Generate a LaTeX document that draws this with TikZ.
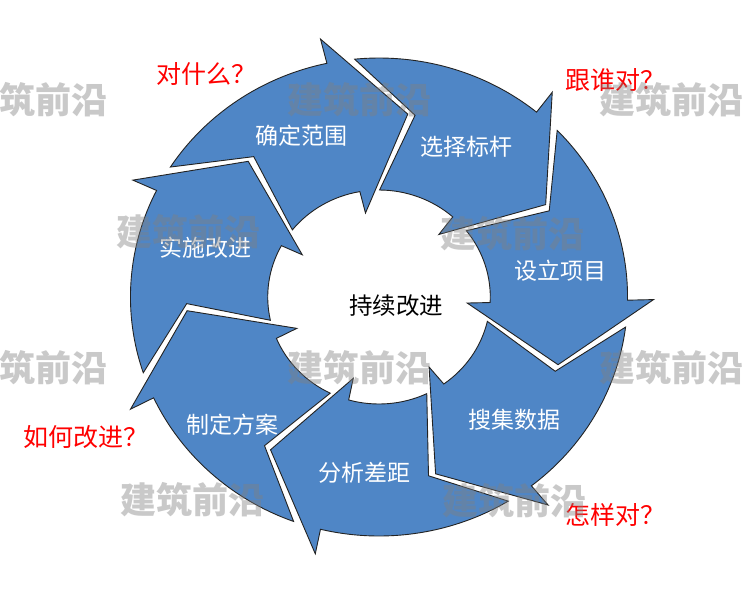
\documentclass[tikz,border=0pt]{standalone}
\usepackage{fontspec}
\newfontfamily\cjk{Noto Sans CJK SC}
\definecolor{segblue}{RGB}{79,134,198}
\definecolor{segline}{RGB}{35,35,35}
\definecolor{wmgray}{RGB}{128,128,128}
\begin{document}
\begin{tikzpicture}[x=1pt,y=-1pt,
  seg/.style={fill=segblue, draw=segline, line width=0.9pt, line join=miter},
  lab/.style={text=white, font=\cjk\fontsize{23}{23}\selectfont, inner sep=0pt},
  hub/.style={text=black, font=\cjk\fontsize{23.5}{23.5}\selectfont, inner sep=0pt},
  ask/.style={text=red, font=\cjk\fontsize{25}{25}\selectfont, inner sep=0pt},
  wm/.style={text=wmgray, text opacity=0.42, font=\cjk\bfseries\fontsize{36}{36}\selectfont, inner sep=0pt}]
\useasboundingbox (0,0) rectangle (746,590);
\fill[white] (0,0) rectangle (746,590);
% ring of seven arrows
\begin{scope}[shift={(379pt,-297pt)}, x=1.04pt, y=1pt]
\foreach \k in {0,...,6}{
  \pgfmathsetmacro\B{102.3-51.43*\k}
  \pgfmathsetmacro\Ba{\B-20.9}
  \pgfmathsetmacro\Bb{\B-3.5}
  \pgfmathsetmacro\Bc{\B-2.4}
  \pgfmathsetmacro\Bd{\B+38.84}
  \pgfmathsetmacro\Be{\B+28.33}
  \pgfmathsetmacro\Bf{\B+44.76}
  \pgfmathsetmacro\Bg{\B-0.2}
  \draw[seg] (\B:264) -- (\Ba:185) -- (\Bb:85) -- (\Bc:107)
    arc[start angle=\Bc, end angle=\Bd, radius=107]
    -- (\Be:185) -- (\Bf:239)
    arc[start angle=\Bf, end angle=\Bg, radius=239] -- cycle;
}
\end{scope}
% labels
\node[lab] (s1) at (301,136) {确定范围};
\node[lab] (s2) at (466,147) {选择标杆};
\node[lab] (s3) at (560,271) {设立项目};
\node[lab] (s4) at (514,420) {搜集数据};
\node[lab] (s5) at (364,473) {分析差距};
\node[lab] (s6) at (232,425) {制定方案};
\node[lab] (s7) at (205,248) {实施改进};
\node[hub] (hub) at (396,306) {持续改进};
\node[ask] (q1) at (206,74) {对什么？};
\node[ask] (q2) at (615,80) {跟谁对？};
\node[ask] (q3) at (615,515) {怎样对？};
\node[ask] (q4) at (86,437) {如何改进？};
% watermarks
\node[wm] (w1) at (36,100) {建筑前沿};
\node[wm] (w2) at (359,100) {建筑前沿};
\node[wm] (w3) at (671,100) {建筑前沿};
\node[wm] (w4) at (188,232) {建筑前沿};
\node[wm] (w5) at (512,234) {建筑前沿};
\node[wm] (w6) at (36,368) {建筑前沿};
\node[wm] (w7) at (359,368) {建筑前沿};
\node[wm] (w8) at (671,368) {建筑前沿};
\node[wm] (w9) at (192,500) {建筑前沿};
\node[wm] (w10) at (514,501) {建筑前沿};
\end{tikzpicture}
\end{document}
